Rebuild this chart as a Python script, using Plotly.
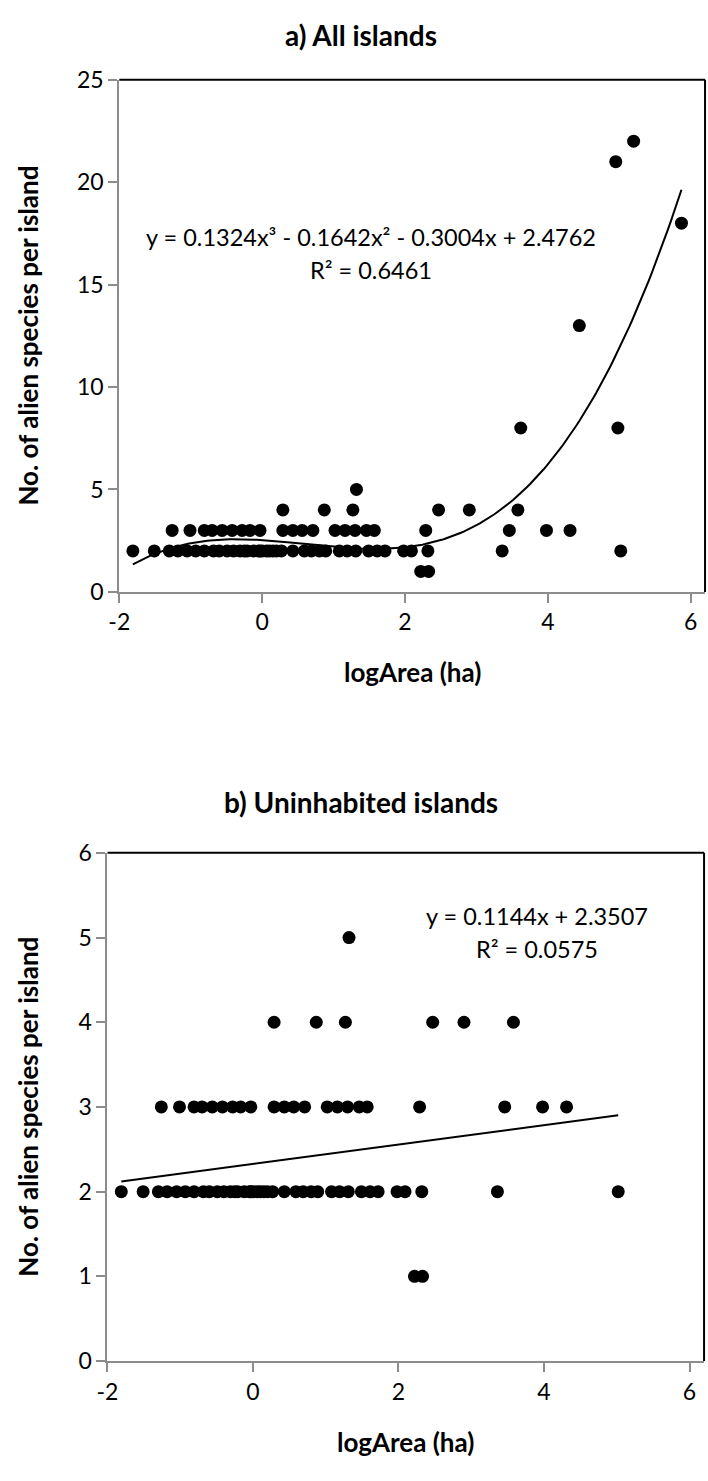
import numpy as np
import plotly.graph_objects as go

# ---------------- data ----------------
# uninhabited islands (present in both panels)
x_unin_2 = [-2.01, -1.71, -1.50, -1.38, -1.25, -1.13, -1.01, -0.88, -0.80, -0.69, -0.60, -0.51,
            -0.45, -0.41, -0.32, -0.25, -0.23, -0.20, -0.14, -0.10, -0.05, 0.00, 0.07, 0.23,
            0.39, 0.49, 0.60, 0.69, 0.88, 0.99, 1.11, 1.29, 1.41, 1.52, 1.78, 1.89, 2.12,
            3.16, 4.82]
x_unin_3 = [-1.46, -1.21, -1.01, -0.90, -0.76, -0.62, -0.48, -0.37, -0.23, 0.09, 0.23, 0.36,
            0.51, 0.82, 0.96, 1.10, 1.26, 1.37, 2.09, 3.26, 3.78, 4.11]
x_unin_4 = [0.09, 0.67, 1.07, 2.27, 2.70, 3.38]
x_unin_5 = [1.12]
x_unin_1 = [2.02, 2.13]

x_unin = x_unin_1 + x_unin_2 + x_unin_3 + x_unin_4 + x_unin_5
y_unin = ([1] * len(x_unin_1) + [2] * len(x_unin_2) + [3] * len(x_unin_3)
          + [4] * len(x_unin_4) + [5] * len(x_unin_5))

# inhabited islands (only in panel a)
x_inhab = [3.42, 4.78, 4.24, 4.75, 5.00, 5.67]
y_inhab = [8, 8, 13, 21, 22, 18]

x_all = x_unin + x_inhab
y_all = y_unin + y_inhab

# trendline coefficients (highest power first)
coef_all = [0.1324, -0.1642, -0.3004, 2.4762]
coef_unin = [0.1144, 2.3507]
eq_all = "y = 0.1324x³ - 0.1642x² - 0.3004x + 2.4762"
r2_all = "R² = 0.6461"
eq_unin = "y = 0.1144x + 2.3507"
r2_unin = "R² = 0.0575"

x_tickvals = [-2.2, -0.2, 1.8, 3.8, 5.8]
x_ticktext = ["-2", "0", "2", "4", "6"]
ya_ticks = [0, 5, 10, 15, 20, 25]
yb_ticks = [0, 1, 2, 3, 4, 5, 6]

title_a = "a) All islands"
title_b = "b) Uninhabited islands"
xtitle = "logArea (ha)"
ytitle = "No. of alien species per island"

# ---------------- figure ----------------
W, H = 708, 1481
FONT = "Lato"
GRAY = "#8c8c8c"

fig = go.Figure()

xa = np.linspace(min(x_all), max(x_all), 200)
fig.add_trace(go.Scatter(x=xa, y=np.polyval(coef_all, xa), mode="lines",
                         line=dict(color="black", width=2), xaxis="x", yaxis="y",
                         showlegend=False, hoverinfo="skip"))
fig.add_trace(go.Scatter(x=x_all, y=y_all, mode="markers",
                         marker=dict(color="black", size=13), xaxis="x", yaxis="y",
                         showlegend=False))

xb = np.linspace(min(x_unin), max(x_unin), 50)
fig.add_trace(go.Scatter(x=xb, y=np.polyval(coef_unin, xb), mode="lines",
                         line=dict(color="black", width=2), xaxis="x2", yaxis="y2",
                         showlegend=False, hoverinfo="skip"))
fig.add_trace(go.Scatter(x=x_unin, y=y_unin, mode="markers",
                         marker=dict(color="black", size=13), xaxis="x2", yaxis="y2",
                         showlegend=False))

def px_x(p):
    return p / W

def px_y(p):
    return 1 - p / H

axis_common = dict(showline=True, linecolor=GRAY, linewidth=2, ticks="outside",
                   ticklen=9, tickwidth=2, tickcolor=GRAY, showgrid=False,
                   zeroline=False, tickfont=dict(family=FONT, size=23, color="black"))

fig.update_layout(
    width=W, height=H, margin=dict(l=0, r=0, t=0, b=0),
    paper_bgcolor="white", plot_bgcolor="white",
    xaxis=dict(domain=[px_x(110), px_x(705)], range=[-2.2, 6.0], tickvals=x_tickvals,
               ticktext=x_ticktext, anchor="y", **axis_common),
    yaxis=dict(domain=[px_y(588), px_y(66)], range=[0, 25], tickvals=ya_ticks,
               anchor="x", **axis_common),
    xaxis2=dict(domain=[px_x(98), px_x(704)], range=[-2.2, 6.0], tickvals=x_tickvals,
                ticktext=x_ticktext, anchor="y2", **axis_common),
    yaxis2=dict(domain=[px_y(1372), px_y(854)], range=[0, 6], tickvals=yb_ticks,
                anchor="x2", **axis_common),
)

shapes = []
for xr, yr in (("x domain", "y domain"), ("x2 domain", "y2 domain")):
    shapes.append(dict(type="line", xref=xr, yref=yr, x0=0, x1=1, y0=1, y1=1,
                       line=dict(color="black", width=2)))
    shapes.append(dict(type="line", xref=xr, yref=yr, x0=1, x1=1, y0=0, y1=1,
                       line=dict(color="black", width=2)))
fig.update_layout(shapes=shapes)

ann = []
tf = dict(family=FONT, size=28, color="black")
af = dict(family=FONT, size=26, color="black")
ef = dict(family=FONT, size=23.5, color="black")

ann.append(dict(text="<b>" + title_a + "</b>", x=px_x(356), y=px_y(20), xref="paper",
                yref="paper", showarrow=False, font=tf, xanchor="center", yanchor="middle"))
ann.append(dict(text="<b>" + title_b + "</b>", x=px_x(356), y=px_y(802), xref="paper",
                yref="paper", showarrow=False, font=tf, xanchor="center", yanchor="middle"))
ann.append(dict(text="<b>" + xtitle + "</b>", x=px_x(408), y=px_y(670), xref="paper",
                yref="paper", showarrow=False, font=af, xanchor="center", yanchor="middle"))
ann.append(dict(text="<b>" + xtitle + "</b>", x=px_x(401), y=px_y(1455), xref="paper",
                yref="paper", showarrow=False, font=af, xanchor="center", yanchor="middle"))
ann.append(dict(text="<b>" + ytitle + "</b>", x=px_x(17), y=px_y(327), xref="paper",
                yref="paper", showarrow=False, font=af, textangle=-90,
                xanchor="center", yanchor="middle"))
ann.append(dict(text="<b>" + ytitle + "</b>", x=px_x(17), y=px_y(1113), xref="paper",
                yref="paper", showarrow=False, font=af, textangle=-90,
                xanchor="center", yanchor="middle"))

ann.append(dict(text=eq_all, x=1.33, y=17.3, xref="x", yref="y", showarrow=False,
                font=ef, xanchor="center", yanchor="middle"))
ann.append(dict(text=r2_all, x=1.33, y=15.7, xref="x", yref="y", showarrow=False,
                font=ef, xanchor="center", yanchor="middle"))
ann.append(dict(text=eq_unin, x=3.71, y=5.25, xref="x2", yref="y2", showarrow=False,
                font=ef, xanchor="center", yanchor="middle"))
ann.append(dict(text=r2_unin, x=3.71, y=4.87, xref="x2", yref="y2", showarrow=False,
                font=ef, xanchor="center", yanchor="middle"))
fig.update_layout(annotations=ann)

fig.write_html("out.html", config={"displayModeBar": False},
               post_script="document.body.style.margin='0';document.body.style.overflow='hidden';")
